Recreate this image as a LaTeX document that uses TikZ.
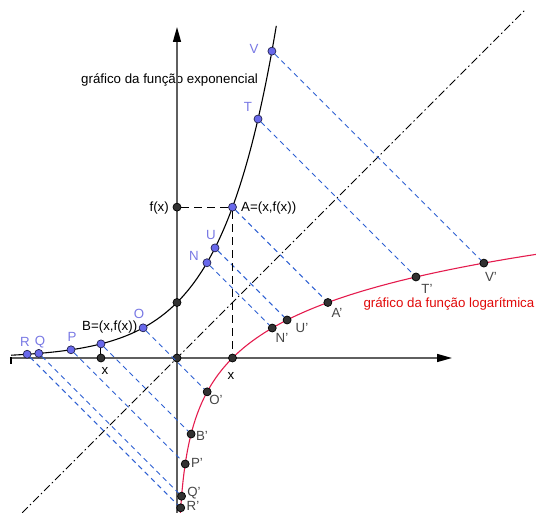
\documentclass[tikz,border=0pt]{standalone}
\usepackage{fontspec}
\setmainfont{Liberation Sans}
\usetikzlibrary{arrows.meta}
\definecolor{axisgray}{RGB}{95,95,95}
\definecolor{logred}{RGB}{228,28,78}
\definecolor{lblred}{RGB}{225,10,10}
\definecolor{refblue}{RGB}{45,95,210}
\definecolor{bptfill}{RGB}{105,105,235}
\definecolor{bptline}{RGB}{35,35,80}
\definecolor{kptfill}{RGB}{50,50,50}
\definecolor{blbltext}{RGB}{120,120,228}
\definecolor{glbltext}{RGB}{70,70,70}
\begin{document}
\begin{tikzpicture}[x=55.5pt,y=55.5pt,
  lbl/.style={font=\fontsize{13.3}{15}\selectfont, inner sep=0pt},
  blbl/.style={lbl, text=blbltext},
  glbl/.style={lbl, text=glbltext},
  bpt/.style={circle, draw=bptline, fill=bptfill, line width=0.7pt, minimum size=8pt, inner sep=0pt},
  kpt/.style={circle, draw=black, fill=kptfill, line width=0.7pt, minimum size=8pt, inner sep=0pt},
  refl/.style={draw=refblue, dash pattern=on 5pt off 4pt, line width=0.9pt},
  guide/.style={draw=black, dash pattern=on 8pt off 5pt, line width=0.9pt},
  axis/.style={draw=axisgray, line width=1.4pt, -{Triangle[length=15pt,width=8pt,color=black]}},
]
\useasboundingbox (-177pt,-155pt) rectangle (359pt,358pt);

% texts behind axes
\node[lbl, anchor=west] (expname) at (-96pt,278pt) {gráfico da função exponencial};
\node[lbl, anchor=east, text=lblred] (logname) at (357.5pt,54pt) {gráfico da função logarítmica};

% bisector y = x
\draw[black, line width=0.9pt, dash pattern=on 8pt off 3pt on 1.5pt off 3pt] (-2.79,-2.79) -- (6.27,6.27);

% axes
\draw[axis] (-167pt,0) -- (275pt,0);
\draw[axis] (0,-155pt) -- (0,331pt);
\draw[black, line width=1.2pt] (-166pt,1pt) -- (-166pt,-6pt);

% curves
\draw[black, line width=1.1pt, smooth] plot[domain=-2.99:1.79, samples=120] (\x,{exp(\x)});
\draw[logred, line width=1.1pt, smooth] plot[domain=-2.79:1.87, samples=120] ({exp(\x)},\x);

% auxiliary black points
\node[kpt] (O) at (0,0) {};
\node[kpt] (E) at (0,1) {};
\node[kpt] (F) at (0,{exp(1)}) {};
\node[kpt] (X1) at (1,0) {};
\node[kpt] (XB) at (-1.37,0) {};

% points on exponential
\node[bpt] (R) at (-2.70,{exp(-2.70)}) {};
\node[bpt] (Q) at (-2.49,{exp(-2.49)}) {};
\node[bpt] (P) at (-1.91,{exp(-1.91)}) {};
\node[bpt] (B) at (-1.37,{exp(-1.37)}) {};
\node[bpt] (Oe) at (-0.61,{exp(-0.61)}) {};
\node[bpt] (N) at (0.54,{exp(0.54)}) {};
\node[bpt] (U) at (0.685,{exp(0.685)}) {};
\node[bpt] (A) at (1,{exp(1)}) {};
\node[bpt] (T) at (1.46,{exp(1.46)}) {};
\node[bpt] (V) at (1.71,{exp(1.71)}) {};

% reflected points on logarithm
\node[kpt] (Rp) at ({exp(-2.70)},-2.70) {};
\node[kpt] (Qp) at ({exp(-2.49)},-2.49) {};
\node[kpt] (Pp) at ({exp(-1.91)},-1.91) {};
\node[kpt] (Bp) at ({exp(-1.37)},-1.37) {};
\node[kpt] (Op) at ({exp(-0.61)},-0.61) {};
\node[kpt] (Np) at ({exp(0.54)},0.54) {};
\node[kpt] (Up) at ({exp(0.685)},0.685) {};
\node[kpt] (Ap) at ({exp(1)},1) {};
\node[kpt] (Tp) at ({exp(1.46)},1.46) {};
\node[kpt] (Vp) at ({exp(1.71)},1.71) {};

% connectors
\foreach \a/\b in {R/Rp,Q/Qp,P/Pp,B/Bp,Oe/Op,N/Np,U/Up,A/Ap,T/Tp,V/Vp}
  \draw[refl] (\a) -- (\b);
\draw[guide] (F) -- (A);
\draw[guide] (A) -- (X1);
\draw[black, line width=1pt] (B) -- (XB);

% labels
\node[lbl, anchor=east] (lfx) at (-8pt,150pt) {f(x)};
\node[lbl, anchor=west] (lA) at (64pt,150pt) {A=(x,f(x))};
\node[lbl, anchor=west] (lB) at (-95pt,31pt) {B=(x,f(x))};
\node[lbl] (lx1) at (-72pt,-13pt) {x};
\node[lbl] (lx2) at (54pt,-18pt) {x};

\node[blbl] (lR) at (-152pt,16pt) {R};
\node[blbl] (lQ) at (-137pt,16pt) {Q};
\node[blbl] (lP) at (-105pt,21pt) {P};
\node[blbl] (lO) at (-38pt,44pt) {O};
\node[blbl] (lN) at (17pt,102pt) {N};
\node[blbl] (lU) at (34pt,123pt) {U};
\node[blbl] (lT) at (71pt,251pt) {T};
\node[blbl] (lV) at (77pt,309pt) {V};

\node[glbl] (lOp) at (39pt,-42pt) {O'};
\node[glbl] (lBp) at (25pt,-78pt) {B'};
\node[glbl] (lPp) at (20pt,-105pt) {P'};
\node[glbl] (lQp) at (17pt,-135pt) {Q'};
\node[glbl] (lRp) at (16pt,-147.5pt) {R'};
\node[glbl] (lNp) at (105pt,20pt) {N'};
\node[glbl] (lUp) at (125pt,30pt) {U'};
\node[glbl] (lAp) at (160pt,45pt) {A'};
\node[glbl] (lTp) at (250pt,69pt) {T'};
\node[glbl] (lVp) at (314pt,81pt) {V'};
\end{tikzpicture}
\end{document}
